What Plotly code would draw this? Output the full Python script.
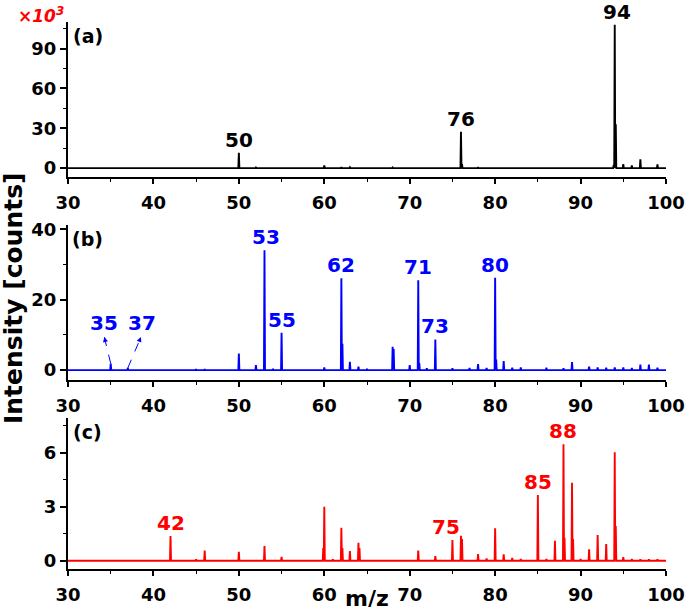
import plotly.graph_objects as go

# ---------------- data ----------------
# Panel (a): intensity in units of 10^3 counts
mz_a = [50, 52, 60, 62, 63, 68, 76, 76.12, 78, 93.88, 94, 94.12, 95, 96, 97, 99]
int_a = [11.6, 0.5, 2.0, 0.8, 0.6, 0.5, 27.3, 3.0, 0.8, 2.5, 108.0, 33.0, 3.0, 2.0, 6.6, 2.8]
labels_a = ["50", "76", "94"]
label_mz_a = [50, 76, 94]

# Panel (b)
mz_b = [35, 37, 45, 46, 50, 52, 53, 54, 55, 60, 62, 62.12, 63, 64, 65, 68, 68.12,
        70, 71, 71.12, 72, 73, 75, 77, 78, 79, 80, 80.12, 81, 82, 83, 86, 88, 89,
        91, 92, 93, 94, 95, 96, 97, 98, 99]
int_b = [1.9, 0.6, 0.3, 0.3, 4.7, 1.4, 34.0, 0.4, 10.6, 0.8, 26.1, 7.5, 2.4, 1.0, 0.4,
         6.6, 6.0, 1.4, 25.5, 2.0, 0.5, 8.7, 0.5, 0.6, 1.7, 0.6, 26.2, 3.0, 2.6, 0.7,
         0.8, 0.7, 0.5, 2.3, 1.0, 0.8, 0.7, 0.8, 0.8, 0.6, 1.6, 1.6, 0.7]
labels_b = ["53", "55", "62", "71", "73", "80"]
label_mz_b = [53, 55, 62, 71, 73, 80]

# Panel (c)
mz_c = [35, 42, 45, 46, 50, 53, 55, 59.88, 60, 61, 62, 62.12, 63, 64, 64.12, 68,
        71, 73, 75, 76, 76.12, 78, 79, 80, 81, 82, 83, 85, 86, 87, 88, 88.12, 89,
        89.12, 90, 91, 92, 93, 94, 94.12, 95, 96, 97, 98, 99]
int_c = [0.02, 1.37, 0.07, 0.56, 0.50, 0.81, 0.22, 0.70, 3.00, 0.07, 1.83, 0.70, 0.54,
         1.00, 0.70, 0.03, 0.56, 0.26, 1.15, 1.39, 1.20, 0.37, 0.12, 1.80, 0.35, 0.15,
         0.10, 3.65, 0.10, 1.11, 6.46, 1.28, 4.33, 1.20, 0.10, 0.63, 1.43, 0.93, 6.02,
         1.93, 0.20, 0.10, 0.08, 0.08, 0.07]
labels_c = ["42", "75", "85", "88"]
label_mz_c = [42, 75, 85, 88]

x_ticks = [30, 40, 50, 60, 70, 80, 90, 100]

# ---------------- helpers ----------------
FONT = "DejaVu Sans"
BLACK, BLUE, RED = "#000000", "#0000FF", "#FF0000"


def profile(mz, inten, lo=30, hi=100, hw=0.06):
    xs, ys = [lo], [0]
    for m, v in sorted(zip(mz, inten)):
        xs += [m - hw, m, m + hw]
        ys += [0, v, 0]
    xs.append(hi)
    ys.append(0)
    return xs, ys


fig = go.Figure()
panels = [
    (mz_a, int_a, BLACK, "x", "y"),
    (mz_b, int_b, BLUE, "x2", "y2"),
    (mz_c, int_c, RED, "x3", "y3"),
]
for mz, inten, col, xa, ya in panels:
    xs, ys = profile(mz, inten)
    fig.add_trace(go.Scatter(x=xs, y=ys, mode="lines", xaxis=xa, yaxis=ya,
                             line=dict(color=col, width=1.9), showlegend=False,
                             hoverinfo="skip"))

tickfont = dict(family=FONT, size=18, color="black", weight="bold")


def xaxis(anchor):
    return dict(anchor=anchor, domain=[0, 1], range=[30, 100], tickvals=x_ticks,
                showline=True, linewidth=2, linecolor="black", mirror=False,
                ticks="outside", ticklen=5, tickwidth=1.5, tickcolor="black",
                minor=dict(ticks="outside", dtick=5, ticklen=3, tickwidth=1.2,
                           tickcolor="black"),
                showgrid=False, zeroline=False, tickfont=tickfont,
                ticklabelstandoff=3, automargin=False)


def yaxis(anchor, domain, rng, tickvals, minor_dtick):
    return dict(anchor=anchor, domain=domain, range=rng, tickvals=tickvals,
                showline=True, linewidth=2, linecolor="black", mirror=False,
                ticks="outside", ticklen=6, tickwidth=1.5, tickcolor="black",
                minor=dict(ticks="outside", tick0=0, dtick=minor_dtick, ticklen=3,
                           tickwidth=1.2, tickcolor="black"),
                showgrid=False, zeroline=False, tickfont=tickfont,
                automargin=False)


fig.update_layout(
    width=685, height=607,
    margin=dict(l=68, r=19, t=22, b=38, autoexpand=False),
    plot_bgcolor="white", paper_bgcolor="white",
    xaxis=xaxis("y"), xaxis2=xaxis("y2"), xaxis3=xaxis("y3"),
    yaxis=yaxis("x", [0.7166, 1.0], [-6.7, 110], [0, 30, 60, 90], 15),
    yaxis2=yaxis("x2", [0.3455, 0.6289], [-2.8, 41.2], [0, 20, 40], 10),
    yaxis3=yaxis("x3", [0.0, 0.2766], [-0.46, 7.94], [0, 3, 6], 1.5),
)

# ---------------- peak labels ----------------
lab_font = lambda c: dict(family=FONT, size=20, color=c, weight="bold")
xshift_override = {"75": -6, "94": 2, "53": 2}
for labels, lmz, mz, inten, col, xa, ya in [
    (labels_a, label_mz_a, mz_a, int_a, BLACK, "x", "y"),
    (labels_b, label_mz_b, mz_b, int_b, BLUE, "x2", "y2"),
    (labels_c, label_mz_c, mz_c, int_c, RED, "x3", "y3"),
]:
    for t, m in zip(labels, lmz):
        v = inten[mz.index(m)]
        fig.add_annotation(x=m, y=v, xref=xa, yref=ya, text=t, showarrow=False,
                           yanchor="middle", xanchor="center", yshift=13,
                           xshift=xshift_override.get(t, 0), font=lab_font(col))

# small peaks 35 and 37 in panel (b) with dashed arrows
for t, m, lx, ly, hx, hy in [("35", 35, 34.25, 13.4, 34.25, 9.4),
                             ("37", 37, 38.64, 13.4, 38.54, 9.4)]:
    v = int_b[mz_b.index(m)]
    fig.add_annotation(x=lx, y=ly, xref="x2", yref="y2", text=t, showarrow=False,
                       font=lab_font(BLUE))
    fig.add_shape(type="line", xref="x2", yref="y2", x0=m, y0=v, x1=hx, y1=hy,
                  line=dict(color=BLUE, width=1, dash="dash"))
    fig.add_annotation(x=hx, y=hy, xref="x2", yref="y2", ax=hx + 0.2 * (m - hx),
                       ay=hy + 0.2 * (v - hy), axref="x2", ayref="y2", text=" ",
                       showarrow=True, arrowhead=2, arrowsize=1, arrowwidth=1,
                       arrowcolor=BLUE, font=dict(size=2))

# panel letters
for t, yp in [("(a)", 0.975), ("(b)", 0.603), ("(c)", 0.2503)]:
    fig.add_annotation(x=0.0334, y=yp, xref="paper", yref="paper", text=t,
                       showarrow=False, xanchor="center", yanchor="middle",
                       font=dict(family=FONT, size=19, color="black", weight="bold"))

# x10^3 multiplier
fig.add_annotation(x=-0.045, y=1.0128, xref="paper", yref="paper",
                   text="<i>×10<sup>3</sup></i>", showarrow=False,
                   xanchor="center", yanchor="middle",
                   font=dict(family=FONT, size=17, color=RED, weight="bold"))

# shared y title
fig.add_annotation(x=-0.092, y=0.4954, xref="paper", yref="paper",
                   text="Intensity [counts]", textangle=-90, showarrow=False,
                   xanchor="center", yanchor="middle",
                   font=dict(family=FONT, size=25, color="black", weight="bold"))

# x title
fig.add_annotation(x=0.5008, y=-0.054, xref="paper", yref="paper", text="m/z",
                   showarrow=False, xanchor="center", yanchor="middle",
                   font=dict(family=FONT, size=22, color="black", weight="bold"))

fig.write_html(
    "out.html",
    config={"displayModeBar": False},
    post_script="document.body.style.margin='0';document.body.style.padding='0';",
)
